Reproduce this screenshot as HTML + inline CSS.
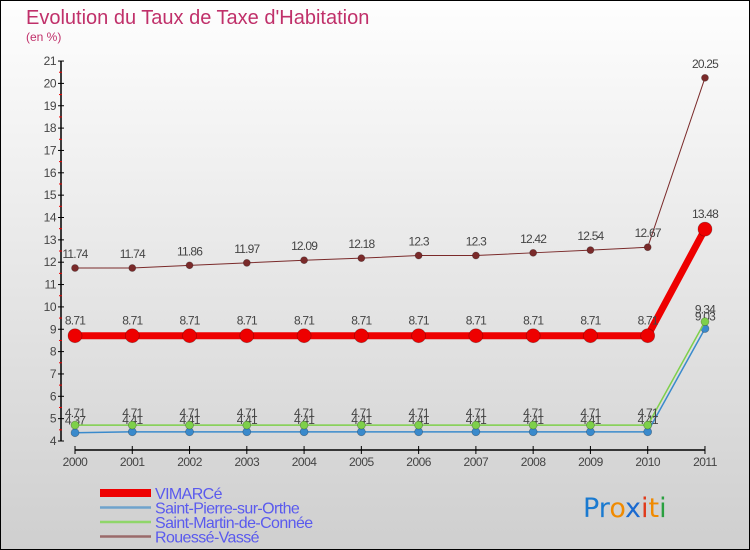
<!DOCTYPE html>
<html><head><meta charset="utf-8"><style>
body{margin:0}
#c{width:750px;height:550px;position:relative;box-sizing:border-box;border:1px solid #000;background:linear-gradient(#fefefe,#cfcfcf);font-family:"Liberation Sans",sans-serif;overflow:hidden}
</style></head><body>
<div id="c">
<svg id="s" width="750" height="550" style="position:absolute;left:-1px;top:-1px;font-family:'Liberation Sans',sans-serif">
<text x="26" y="24" font-size="20" fill="#c0306a">Evolution du Taux de Taxe d'Habitation</text>
<text x="26" y="41" font-size="12" fill="#c0306a">(en %)</text>
<g id="g"></g>
</svg>
</div>
<script>
const years=[2000,2001,2002,2003,2004,2005,2006,2007,2008,2009,2010,2011];
const vimarce=[8.71,8.71,8.71,8.71,8.71,8.71,8.71,8.71,8.71,8.71,8.71,13.48];
const stPierre=[4.37,4.41,4.41,4.41,4.41,4.41,4.41,4.41,4.41,4.41,4.41,9.03];
const stMartin=[4.71,4.71,4.71,4.71,4.71,4.71,4.71,4.71,4.71,4.71,4.71,9.34];
const rouesse=[11.74,11.74,11.86,11.97,12.09,12.18,12.3,12.3,12.42,12.54,12.67,20.25];
const yTicks=[4,5,6,7,8,9,10,11,12,13,14,15,16,17,18,19,20,21];
const NS="http://www.w3.org/2000/svg";
const g=document.getElementById('g');
const X=i=>75+i*57.27;
const Y=v=>441-(v-4)*22.35;
function mk(t,a,p){const e=document.createElementNS(NS,t);for(const k in a)e.setAttribute(k,a[k]);(p||g).appendChild(e);return e;}
const fmt=v=>String(v);
let ax=mk('line',{x1:61,y1:Y(21),x2:61,y2:Y(4),stroke:'#000','stroke-width':1.5});


let xa=mk('line',{x1:75,y1:450,x2:X(11),y2:450,stroke:'#000','stroke-width':1.5});


yTicks.forEach(v=>{
 mk('line',{x1:58,y1:Y(v),x2:64,y2:Y(v),stroke:'#000'});
 if(v<21)mk('line',{x1:59,y1:Y(v+0.5),x2:62,y2:Y(v+0.5),stroke:'#e00'});
 const t=mk('text',{x:56,y:Y(v)+4,'font-size':12,'text-anchor':'end',fill:'#444','letter-spacing':'-0.5'});t.textContent=v;
 
 
});
years.forEach((y,i)=>{
 mk('line',{x1:X(i),y1:446,x2:X(i),y2:454,stroke:'#000'});
 const t=mk('text',{x:X(i),y:466,'font-size':12,'text-anchor':'middle',fill:'#444','letter-spacing':'-0.5'});t.textContent=y;
 
 
});
function series(data,color,lw,r,name,dy){
 const pl=mk('polyline',{points:data.map((v,i)=>X(i)+','+Y(v)).join(' '),fill:'none',stroke:color,'stroke-width':lw});
 
 
 data.forEach((v,i)=>{
  const c=mk('circle',{cx:X(i),cy:Y(v),r:r,fill:color,stroke:'rgba(0,0,0,0.3)','stroke-width':0.7});
  
  
  const t=mk('text',{x:X(i),y:Y(v)+dy,'font-size':12,'text-anchor':'middle',fill:'#444','letter-spacing':'-0.8'});
  t.textContent=fmt(v);
  
  
 });
}
series(rouesse,'#7a2a2a',1,3.5,'rouesse-vasse',-10);
series(stPierre,'#3a8acc',1.5,4,'saint-pierre',-8);
series(stMartin,'#7ed04a',1.5,4,'saint-martin',-8);
series(vimarce,'#ee0000',7,7,'vimarce',-11);
const leg=[['VIMARCé','#ee0000',8],['Saint-Pierre-sur-Orthe','#6fa3cc',2.5],['Saint-Martin-de-Connée','#8fd66a',2.5],['Rouessé-Vassé','#9a6a6a',2.5]];
leg.forEach((l,i)=>{
 const y=493+i*14.5;
 const ln=mk('line',{x1:100,y1:y,x2:151,y2:y,stroke:l[1],'stroke-width':l[2]});
 
 
 const t=mk('text',{x:155,y:y+6,'font-size':16,fill:'#5a5aee','letter-spacing':'-0.6'});t.textContent=l[0];
 
 
});
const lg=mk('text',{x:583,y:517,'font-size':27,'font-family':'DejaVu Sans, sans-serif'});


[['Pr','#1a7ad0'],['o','#f08a00'],['x','#1a6ad0'],['i','#e03a1a'],['t','#f08a00'],['i','#2aa040']].forEach(p=>{const s=mk('tspan',{fill:p[1]},lg);s.textContent=p[0];});
</script>
</body></html>
